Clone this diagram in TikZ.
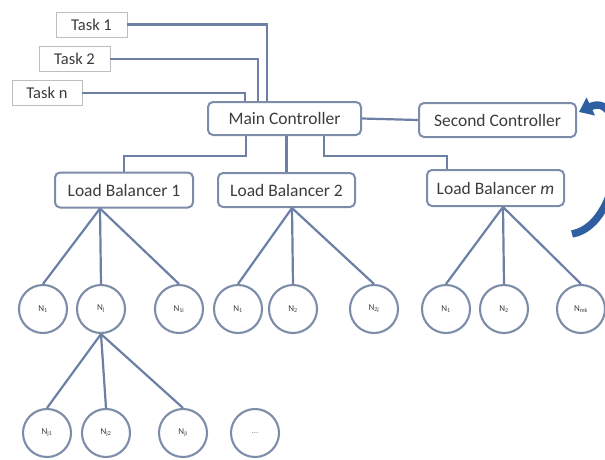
\documentclass[tikz,border=0pt]{standalone}
\usepackage{fontspec}
\setmainfont{Carlito}
\usetikzlibrary{arrows.meta}
\definecolor{boxline}{RGB}{125,140,168}
\definecolor{conn}{RGB}{108,128,165}
\definecolor{txt}{RGB}{60,60,60}
\definecolor{arrowblue}{RGB}{46,95,160}
\definecolor{taskline}{RGB}{190,190,190}
\tikzset{
  taskbox/.style={draw=taskline,line width=0.9pt,rectangle,minimum width=#1,minimum height=25pt,inner sep=0pt,font=\fontsize{16.5}{18}\selectfont,text=txt},
  rbox/.style={draw=boxline,line width=2pt,rounded corners=5pt,minimum height=34pt,inner sep=0pt,font=\fontsize{17.5}{19}\selectfont,text=txt},
  nodec/.style={draw=boxline,line width=2.1pt,circle,minimum size=48pt,inner sep=0pt,font=\fontsize{9}{10}\selectfont,text=txt},
  link/.style={draw=conn,line width=2.2pt},
}
\begin{document}
\begin{tikzpicture}[x=1pt,y=-1pt]
\useasboundingbox (0,0) rectangle (605,459);
% tasks
\node[taskbox=71pt] (t1) at (91.5,24.5) {Task 1};
\node[taskbox=71pt] (t2) at (74.5,59) {Task 2};
\node[taskbox=70pt] (tn) at (47,93) {Task n};
% controllers
\node[rbox,minimum width=153pt,minimum height=33pt] (mc) at (284.5,118.5) {Main Controller};
\node[rbox,minimum width=157pt] (sc) at (497.5,120) {Second Controller};
% load balancers
\node[rbox,minimum width=138pt,minimum height=35pt] (lb1) at (124,190) {Load Balancer 1};
\node[rbox,minimum width=137pt] (lb2) at (286.5,190) {Load Balancer 2};
\node[rbox,minimum width=137pt,minimum height=36pt] (lbm) at (495.5,188) {Load Balancer \textit{m}};
% circles row 1
\node[nodec] (a1) at (43,309) {N\textsubscript{1}};
\node[nodec] (a2) at (101,309) {N\textsubscript{j}};
\node[nodec] (a3) at (179,309) {N\textsubscript{1i}};
\node[nodec] (b1) at (238,309) {N\textsubscript{1}};
\node[nodec] (b2) at (293,309) {N\textsubscript{2}};
\node[nodec] (b3) at (374,309) {N\textsubscript{2j}};
\node[nodec] (c1) at (446,309) {N\textsubscript{1}};
\node[nodec] (c2) at (504,309) {N\textsubscript{2}};
\node[nodec] (c3) at (581,309) {N\textsubscript{mk}};
% circles row 2
\node[nodec] (d1) at (47,433) {N\textsubscript{j1}};
\node[nodec] (d2) at (106,433) {N\textsubscript{j2}};
\node[nodec] (d3) at (183,433) {N\textsubscript{ji}};
\node[nodec,text=boxline] (d4) at (255,433) {...};
% apex coordinates
\coordinate (p1) at ([xshift=46pt]lb1.south west);
\coordinate (p2) at ([xshift=75pt]lb2.south west);
\coordinate (pm) at ([xshift=77pt]lbm.south west);
% task connectors
\draw[link] (t1.east) -| ([xshift=60pt]mc.north west);
\draw[link] (t2.east) -| ([xshift=51pt]mc.north west);
\draw[link] (tn.east) -| ([xshift=38pt]mc.north west);
% controller link
\draw[link] (mc.east) -- (sc.west);
% MC to LBs
\draw[link] ([xshift=39pt]mc.south west) -- ++(0,20) -| (lb1.north);
\draw[link] ([xshift=2pt]mc.south) -- ([xshift=2pt]mc.south |- lb2.north);
\draw[link] ([xshift=117pt]mc.south west) -- ++(0,20) -| ([xshift=21pt]lbm.north west);
% LB to nodes
\draw[link] (p1) -- (a1.north);
\draw[link] (p1) -- (a2.north);
\draw[link] (p1) -- (a3.north);
\draw[link] (p2) -- (b1.north);
\draw[link] (p2) -- (b2.north);
\draw[link] (p2) -- (b3.north);
\draw[link] (pm) -- (c1.north);
\draw[link] (pm) -- (c2.north);
\draw[link] (pm) -- (c3.north);
% second level
\draw[link] (a2.south) -- (d1.north);
\draw[link] (a2.south) -- (d2.north);
\draw[link] (a2.south) -- (d3.north);
% blue curved arrow
\coordinate (arrstart) at (572,234);
\draw[arrowblue,line width=7.5pt,-{Triangle[length=13pt,width=19pt]}] (arrstart) .. controls (628,224) and (630,88) .. ([xshift=2pt,yshift=-10pt]sc.north east);
\end{tikzpicture}
\end{document}
